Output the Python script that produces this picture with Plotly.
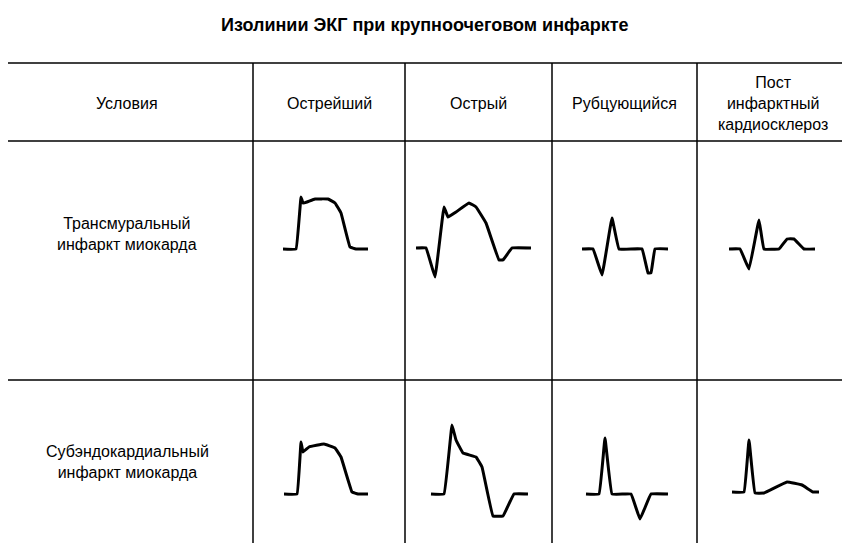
import plotly.graph_objects as go

title = "Изолинии ЭКГ при крупноочеговом инфаркте"
headers = ["Условия", "Острейший", "Острый", "Рубцующийся", "Пост<br>инфарктный<br>кардиосклероз"]
row_labels = ["Трансмуральный<br>инфаркт миокарда", "Субэндокардиальный<br>инфаркт миокарда"]

# waveforms (pixel space of the 850x543 image)
r1c1_x = [283,296,301,303,307,315,328,335,341,350,356,368]
r1c1_y = [249,249,197,203,202,199,199,203,213,247,249,249]
r1c2_x = [416,426,435,444,448,456,469,476,486,499,503,512,531]
r1c2_y = [248,248,277,207,217,212,203,207,223,260,260,248,248]
r1c3_x = [582,593,602,612,619,642,648,651,655,668]
r1c3_y = [249,249,275,218,249,249,273,273,249,249]
r1c4_x = [729,740,749,759,764,779,787,794,804,815]
r1c4_y = [249,249,269,220,249,249,239,239,249,249]
r2c1_x = [284,297,301,303,309,324,335,341,352,358,368]
r2c1_y = [494,494,442,452,447,444,448,457,492,494,494]
r2c2_x = [431,444,452,456,463,476,482,493,503,514,528]
r2c2_y = [494,494,425,440,453,457,467,516,516,494,494]
r2c3_x = [586,599,605,612,631,640,651,668]
r2c3_y = [494,494,438,494,494,519,494,494]
r2c4_x = [732,744,749,755,764,787,802,813,819]
r2c4_y = [492,492,440,493,493,482,485,492,492]

waves = [(r1c1_x, r1c1_y), (r1c2_x, r1c2_y), (r1c3_x, r1c3_y), (r1c4_x, r1c4_y),
         (r2c1_x, r2c1_y), (r2c2_x, r2c2_y), (r2c3_x, r2c3_y), (r2c4_x, r2c4_y)]

fig = go.Figure()
for wx, wy in waves:
    fig.add_trace(go.Scatter(x=wx, y=wy, mode="lines",
                             line=dict(color="black", width=3, shape="spline", smoothing=0.2),
                             hoverinfo="skip", showlegend=False))

shapes = []
for yy in [63, 141, 380]:
    shapes.append(dict(type="line", x0=0, x1=860, y0=yy, y1=yy, line=dict(color="black", width=1.5)))
for xx in [253, 405, 552, 697]:
    shapes.append(dict(type="line", x0=xx, x1=xx, y0=63, y1=560, line=dict(color="black", width=1.5)))

anns = [dict(x=425, y=25, text="<b>" + title + "</b>", showarrow=False, font=dict(size=18))]
hx = [127, 329, 478, 624, 773]
for i, h in enumerate(headers):
    anns.append(dict(x=hx[i], y=103, text=h, showarrow=False, font=dict(size=16)))
for i, r in enumerate(row_labels):
    anns.append(dict(x=127, y=[234, 462][i], text=r, showarrow=False, font=dict(size=16)))

# page body has an 8px margin; offset the ranges so content lands where it is in the reference
fig.update_layout(width=850, height=543, margin=dict(l=0, r=0, t=0, b=0),
                  paper_bgcolor="white", plot_bgcolor="white",
                  font=dict(family="Liberation Sans, Arial", color="black"),
                  xaxis=dict(range=[8, 858], visible=False, fixedrange=True),
                  yaxis=dict(range=[551, 8], visible=False, fixedrange=True),
                  shapes=shapes, annotations=anns)
fig.write_html("out.html")
